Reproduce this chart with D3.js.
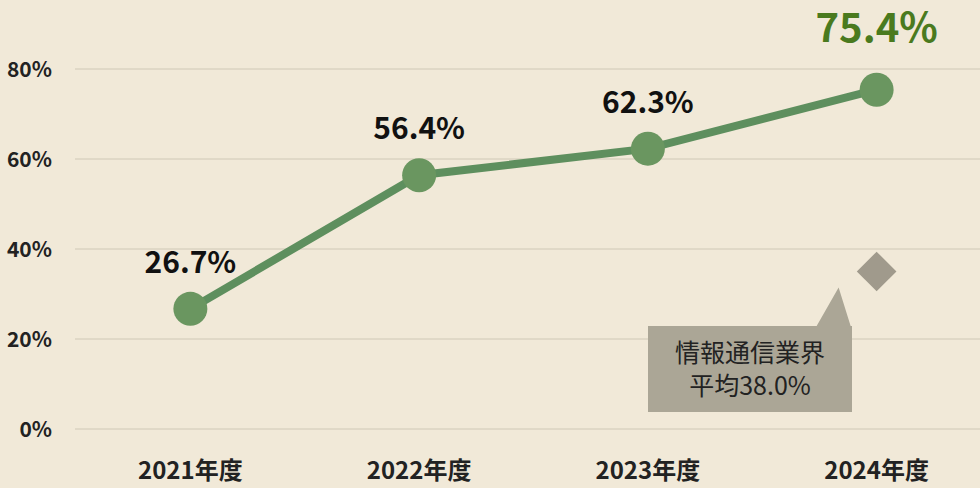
<!DOCTYPE html>
<html><head><meta charset="utf-8">
<script src="https://cdn.jsdelivr.net/npm/d3@7"></script>
<style>body{margin:0;background:#f1e9d8;font-family:"Noto Sans CJK JP","Noto Sans",sans-serif}</style>
</head><body>
<script>
// data
const years = ["2021年度", "2022年度", "2023年度", "2024年度"];
const rates = [26.7, 56.4, 62.3, 75.4];
const yTicks = [0, 20, 40, 60, 80];
const industryAvg = 35; // drawn position of the diamond
const calloutLines = ["情報通信業界", "平均38.0%"];

const W = 980, H = 488;
const svg = d3.select("body").append("svg").attr("width", W).attr("height", H);
svg.append("rect").attr("width", W).attr("height", H).attr("fill", "#f1e9d8");

const x = d3.scalePoint().domain(years).range([76, 991]).padding(0.5);
const y = d3.scaleLinear().domain([0, 80]).range([429, 69]);

// gridlines + y labels
svg.selectAll(".grid").data(yTicks).join("line")
  .attr("x1", 75).attr("x2", 980).attr("y1", d => y(d)).attr("y2", d => y(d))
  .attr("stroke", "#cfc8b6").attr("stroke-width", 1);
svg.selectAll(".yl").data(yTicks).join("text")
  .attr("x", 52).attr("y", d => y(d) + 8).attr("text-anchor", "end")
  .attr("font-size", 21).attr("font-weight", 700).attr("fill", "#222")
  .text(d => d + "%");

// x labels
svg.selectAll(".xl").data(years).join("text")
  .attr("x", d => x(d)).attr("y", 479).attr("text-anchor", "middle")
  .attr("font-size", 24).attr("font-weight", 700).attr("fill", "#222")
  .text(d => d);

// line
const pts = years.map((d, i) => [x(d), y(rates[i])]);
svg.append("path").attr("d", d3.line()(pts))
  .attr("fill", "none").attr("stroke", "#5e8f5e").attr("stroke-width", 8);
svg.selectAll(".dot").data(pts).join("circle")
  .attr("cx", d => d[0]).attr("cy", d => d[1]).attr("r", 17)
  .attr("fill", "#6a9660");

// value labels
svg.selectAll(".vl").data(rates).join("text")
  .attr("x", (d, i) => x(years[i])).attr("y", (d, i) => y(d) - (i === 3 ? 48 : 36))
  .attr("text-anchor", "middle")
  .attr("font-size", (d, i) => i === 3 ? 40 : 30).attr("font-weight", 700)
  .attr("fill", (d, i) => i === 3 ? "#4a7a1e" : "#111")
  .text(d => d.toFixed(1) + "%");

// industry average diamond
const dx = x(years[3]), dy = y(industryAvg);
svg.append("rect").attr("x", -14).attr("y", -14).attr("width", 28).attr("height", 28)
  .attr("transform", `translate(${dx},${dy}) rotate(45)`).attr("fill", "#a09a8c");

// callout
svg.append("path")
  .attr("d", `M648,326 H${dx - 60} L${dx - 38},${dy + 16} L${dx - 26},326 H852 V412 H648 Z`)
  .attr("fill", "#aba696");
svg.selectAll(".cl").data(calloutLines).join("text")
  .attr("x", 750).attr("y", (d, i) => 362 + i * 33).attr("text-anchor", "middle")
  .attr("font-size", 25).attr("fill", "#222").text(d => d);
</script>
</body></html>
